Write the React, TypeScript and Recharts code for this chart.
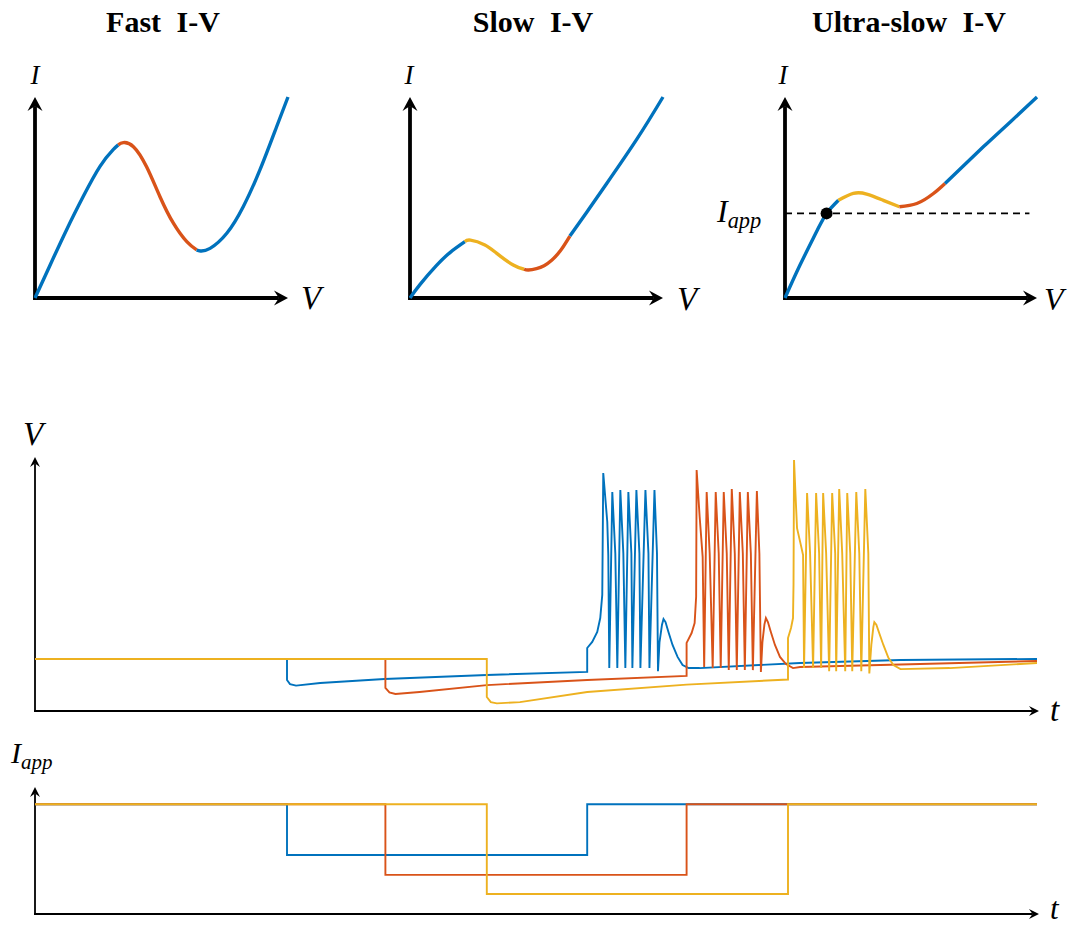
import React from 'react';
import { LineChart, Line, XAxis, YAxis, ReferenceLine, ReferenceDot } from 'recharts';

// MATLAB default line colours
const BLUE = '#0072BD';
const ORANGE = '#D95319';
const YELLOW = '#EDB120';

type Pt = [number, number];

// ---- I-V curves, [V, I], both axes run 0..100 (arrow tips at 100) ----
const fastBlueLow: Pt[] = [[0, 0], [5.9, 16.2], [12.5, 34], [19.1, 50.6], [25.7, 65.5], [30.9, 73.8], [32.9, 76.2]];
const fastRed: Pt[] = [[32.9, 76.2], [34.9, 77.3], [38.9, 75.3], [44.1, 65.3], [49.4, 50.4], [54.7, 37.2], [60, 28], [63.9, 23.9]];
const fastBlueHigh: Pt[] = [[63.9, 23.9], [65.4, 23.4], [69.2, 24.7], [75.8, 32.2], [82.3, 45.4], [88.9, 63.7], [95.5, 85.2], [100, 100]];

const slowBlueLow: Pt[] = [[0, 0], [4, 6.8], [10.5, 16.2], [15.8, 22.6], [21.7, 28]];
const slowYellow: Pt[] = [[21.7, 28], [23.9, 28.8], [29.6, 26.4], [34.3, 22.2], [40.8, 16.4], [45.1, 14.3]];
const slowRed: Pt[] = [[45.1, 14.3], [46.8, 13.9], [50, 14.6], [53, 16.1], [56, 18.8], [59.5, 23.6], [63.2, 30.8]];
const slowBlueHigh: Pt[] = [[63.2, 30.8], [70, 42.9], [77, 55.6], [89.6, 78.9], [100, 100]];

const usBlueLow: Pt[] = [[0, 0], [6, 16.5], [12.6, 33.2], [16.5, 42.1], [21.2, 48.6]];
const usYellow: Pt[] = [[21.2, 48.6], [27.1, 52], [32.4, 51.7], [39, 48.6], [45.4, 45.4]];
const usRed: Pt[] = [[45.4, 45.4], [52.3, 47], [58.9, 52], [63.5, 57]];
const usBlueHigh: Pt[] = [[63.5, 57], [78.7, 75.2], [89.4, 87.6], [100, 100]];
const usIapp = 42.1;
const usFixedPoint: Pt = [16.5, 42.1];

// ---- membrane voltage traces, [t, V], both axes 0..100 ----
const vBlue: Pt[] = [
  [0, 20.5], [25.1, 20.5], [25.1, 12.2], [25.4, 10.6], [26.0, 10.0], [28.4, 11.0], [34.8, 12.6], [45.0, 14.2], [55.0, 15.4],
  [55.0, 24.8], [55.5, 27.2], [56.0, 31.1], [56.3, 36.6], [56.5, 45.7], [56.6, 93.7], [57.0, 74.4], [57.1, 61.4], [57.2, 16.9],
  [57.5, 86.2], [57.8, 62], [58.0, 16.9],
  [58.3, 87.0], [58.6, 62], [58.8, 16.9],
  [59.1, 86.2], [59.4, 62], [59.5, 16.9],
  [59.9, 87.0], [60.2, 62], [60.3, 16.9],
  [60.8, 87.0], [61.1, 62], [61.2, 16.9],
  [61.7, 87.0], [61.95, 62], [62.05, 15.7],
  [62.2, 27], [62.45, 34], [62.6, 36.2], [62.8, 35], [63.1, 31], [63.5, 26], [64.0, 21.3], [64.5, 18.1], [65.1, 16.9],
  [66.2, 16.9], [76.2, 18.9], [86.2, 20.1], [99.8, 20.5],
];
const vRed: Pt[] = [
  [0, 20.5], [34.9, 20.5], [34.9, 9.1], [35.3, 7.3], [35.9, 6.7], [38.3, 7.5], [45.0, 10.2], [55.0, 12.2], [64.9, 13.8],
  [64.9, 26.8], [65.4, 30.7], [65.7, 34.6], [65.85, 45], [65.9, 94.9], [66.2, 76.5], [66.5, 60.7], [66.65, 17.3],
  [66.9, 86.2], [67.2, 62], [67.5, 16.9],
  [67.8, 86.2], [68.1, 62], [68.3, 16.9],
  [68.6, 86.2], [68.9, 62], [69.1, 16.1],
  [69.4, 87.4], [69.7, 62], [69.9, 16.1],
  [70.2, 86.2], [70.5, 62], [70.7, 16.1],
  [71.0, 86.2], [71.3, 62], [71.5, 16.1],
  [71.9, 86.6], [72.15, 62], [72.3, 15.4],
  [72.45, 27], [72.65, 34], [72.8, 36.6], [73.0, 35], [73.3, 31], [73.7, 26], [74.2, 21.3], [74.8, 18.5], [75.5, 16.9],
  [76.2, 17.3], [86.2, 18.3], [99.8, 19.7],
];
const vYellow: Pt[] = [
  [0, 20.5], [45.0, 20.5], [45.0, 5.5], [45.4, 3.5], [46.0, 3.0], [48.3, 3.5], [55.0, 7.5], [64.9, 10.4], [75.0, 12.4],
  [75.0, 28.7], [75.3, 32.7], [75.5, 36.6], [75.55, 50], [75.6, 98.8], [75.75, 85], [75.9, 72], [76.3, 65], [76.5, 61.4], [76.6, 16.9],
  [76.9, 85.8], [77.2, 62], [77.5, 16.9],
  [77.8, 85.8], [78.1, 62], [78.3, 16.9],
  [78.5, 85.8], [78.8, 62], [79.1, 15.7],
  [79.4, 85.8], [79.7, 62], [79.8, 15.7],
  [80.1, 87.4], [80.4, 62], [80.7, 15.7],
  [80.9, 85.8], [81.2, 62], [81.4, 15.7],
  [81.8, 86.2], [82.1, 62], [82.3, 15.7],
  [82.7, 87.4], [83.0, 62], [83.1, 14.8],
  [83.3, 26], [83.5, 33], [83.6, 35], [83.8, 34], [84.1, 30.5], [84.5, 26], [85.0, 20.9], [85.5, 18.1], [86.2, 16.5],
  [91.1, 16.9], [99.8, 18.9],
];

// ---- applied current steps, [t, I] ----
const iBlue: Pt[] = [[0, 86.4], [25.1, 86.4], [25.1, 46.5], [55.0, 46.5], [55.0, 86.4], [99.8, 86.4]];
const iRed: Pt[] = [[0, 86.4], [34.9, 86.4], [34.9, 30.8], [64.9, 30.8], [64.9, 86.4], [99.8, 86.4]];
const iYellow: Pt[] = [[0, 86.4], [45.0, 86.4], [45.0, 15.7], [75.0, 15.7], [75.0, 86.4], [99.8, 86.4]];

const rows = (pts: Pt[]) => pts.map(([x, y]) => ({ x, y }));

// axis line with a latex-style arrow head at the far end
const arrow = (len: number, wid: number, sw: number) => (p: any) => {
  const { x1, y1, x2, y2 } = p;
  const L = Math.hypot(x2 - x1, y2 - y1) || 1;
  const ux = (x2 - x1) / L, uy = (y2 - y1) / L;
  const nx = -uy, ny = ux;
  const bx = x2 - ux * len, by = y2 - uy * len;
  const kx = x2 - ux * len * 0.65, ky = y2 - uy * len * 0.65;
  const h = wid / 2;
  return (
    <g>
      <line x1={x1 - ux * sw / 2} y1={y1 - uy * sw / 2} x2={kx} y2={ky} stroke="#000" strokeWidth={sw} />
      <polygon
        points={`${x2},${y2} ${bx + nx * h},${by + ny * h} ${kx},${ky} ${bx - nx * h},${by - ny * h}`}
        fill="#000"
      />
    </g>
  );
};

const PAD = 24;
type Box = { x0: number; x1: number; y0: number; y1: number };

const Panel = ({ box, children }: { box: Box; children: React.ReactNode }) => (
  <div style={{ position: 'absolute', left: box.x0 - PAD, top: box.y0 - PAD }}>
    <LineChart
      width={box.x1 - box.x0 + 2 * PAD}
      height={box.y1 - box.y0 + 2 * PAD}
      margin={{ top: PAD, right: PAD, bottom: PAD, left: PAD }}
    >
      <XAxis type="number" dataKey="x" domain={[0, 100]} hide />
      <YAxis type="number" dataKey="y" domain={[0, 100]} hide />
      {children}
    </LineChart>
  </div>
);

const seg = (pts: Pt[], color: string, w: number, curved: boolean, key: string) => (
  <Line
    key={key}
    data={rows(pts)}
    dataKey="y"
    type={curved ? 'natural' : 'linear'}
    stroke={color}
    strokeWidth={w}
    dot={false}
    activeDot={false}
    isAnimationActive={false}
  />
);

const bigArrow = arrow(14, 15, 3.8);
const smallArrow = arrow(10, 10, 1.8);

const axesLines = (shape: any) => [
  <ReferenceLine key="ax" segment={[{ x: 0, y: 0 }, { x: 100, y: 0 }]} shape={shape} />,
  <ReferenceLine key="ay" segment={[{ x: 0, y: 0 }, { x: 0, y: 100 }]} shape={shape} />,
];

const serif = "'Liberation Serif', 'Times New Roman', 'DejaVu Serif', serif";

// math-style italic label
const MathLabel = ({ x, y, size, text, sub, anchor }: {
  x: number; y: number; size: number; text: string; sub?: string; anchor?: 'start' | 'middle';
}) => (
  <text
    x={x}
    y={y}
    style={{ fontFamily: serif, fontStyle: 'italic', fontSize: size }}
    textAnchor={anchor || 'start'}
  >
    {text}
    {sub ? <tspan style={{ fontSize: size * 0.7 }} dy={size * 0.2}>{sub}</tspan> : null}
  </text>
);

export default function App() {
  return (
    <div style={{ position: 'absolute', left: 0, top: 0, width: 1075, height: 926, background: '#fff' }}>
      <Panel box={{ x0: 35, x1: 288, y0: 97, y1: 298 }}>
        {axesLines(bigArrow)}
        {seg(fastBlueLow, BLUE, 3.4, true, 'a')}
        {seg(fastRed, ORANGE, 3.4, true, 'b')}
        {seg(fastBlueHigh, BLUE, 3.4, true, 'c')}
      </Panel>
      <Panel box={{ x0: 410, x1: 663, y0: 97, y1: 298 }}>
        {axesLines(bigArrow)}
        {seg(slowBlueLow, BLUE, 3.4, true, 'a')}
        {seg(slowYellow, YELLOW, 3.4, true, 'b')}
        {seg(slowRed, ORANGE, 3.4, true, 'c')}
        {seg(slowBlueHigh, BLUE, 3.4, true, 'd')}
      </Panel>
      <Panel box={{ x0: 785, x1: 1037, y0: 97, y1: 298 }}>
        {axesLines(bigArrow)}
        <ReferenceLine
          segment={[{ x: 0, y: usIapp }, { x: 97, y: usIapp }]}
          stroke="#000"
          strokeWidth={1.8}
          strokeDasharray="7 5"
        />
        {seg(usBlueLow, BLUE, 3.4, true, 'a')}
        {seg(usYellow, YELLOW, 3.4, true, 'b')}
        {seg(usRed, ORANGE, 3.4, true, 'c')}
        {seg(usBlueHigh, BLUE, 3.4, true, 'd')}
        <ReferenceDot x={usFixedPoint[0]} y={usFixedPoint[1]} r={6} fill="#000" stroke="none" />
      </Panel>
      <Panel box={{ x0: 35, x1: 1039, y0: 457, y1: 711 }}>
        {axesLines(smallArrow)}
        {seg(vBlue, BLUE, 1.9, false, 'a')}
        {seg(vRed, ORANGE, 1.9, false, 'b')}
        {seg(vYellow, YELLOW, 1.9, false, 'c')}
      </Panel>
      <Panel box={{ x0: 35, x1: 1039, y0: 787, y1: 914 }}>
        {axesLines(smallArrow)}
        {seg(iBlue, BLUE, 1.9, false, 'a')}
        {seg(iRed, ORANGE, 1.9, false, 'b')}
        {seg(iYellow, YELLOW, 1.9, false, 'c')}
      </Panel>
      <svg width={1075} height={926} style={{ position: 'absolute', left: 0, top: 0, pointerEvents: 'none' }}>
        <g style={{ fontFamily: serif, fontWeight: 'bold', fontSize: 30, wordSpacing: 8 }} textAnchor="middle">
          <text x={163} y={32}>Fast I-V</text>
          <text x={533} y={32}>Slow I-V</text>
          <text x={909} y={32}>Ultra-slow I-V</text>
        </g>
        <MathLabel x={35} y={84} size={27} text="I" anchor="middle" />
        <MathLabel x={409} y={84} size={27} text="I" anchor="middle" />
        <MathLabel x={783} y={84} size={27} text="I" anchor="middle" />
        <MathLabel x={301} y={309} size={33} text="V" />
        <MathLabel x={677} y={310} size={33} text="V" />
        <MathLabel x={1044} y={310} size={32} text="V" />
        <MathLabel x={717} y={222} size={32} text="I" sub="app" />
        <MathLabel x={23} y={445} size={33} text="V" />
        <MathLabel x={1050} y={721} size={33} text="t" />
        <MathLabel x={11} y={763} size={30} text="I" sub="app" />
        <MathLabel x={1050} y={919} size={31} text="t" />
      </svg>
    </div>
  );
}
